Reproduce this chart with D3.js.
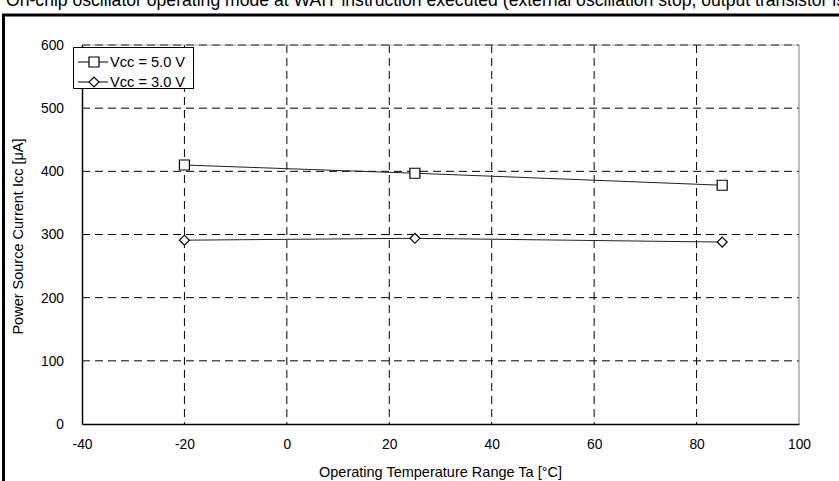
<!DOCTYPE html>
<html><head><meta charset="utf-8">
<script src="https://cdn.jsdelivr.net/npm/d3@7"></script>
<style>body{margin:0;background:#fff;} svg{display:block;font-family:"Liberation Sans",Arial,sans-serif;}</style>
</head><body>
<svg id="c" width="839" height="481"></svg>
<script>
const temps = [-20, 25, 85];
const vcc5 = [410, 397, 378];
const vcc3 = [291, 294, 288];
const seriesNames = ["Vcc = 5.0 V", "Vcc = 3.0 V"];
const xTicks = [-40, -20, 0, 20, 40, 60, 80, 100];
const yTicks = [0, 100, 200, 300, 400, 500, 600];
const titleText = "On-chip oscillator operating mode at WAIT instruction executed (external oscillation stop, output transistor is off)";

const FONT = "'Liberation Sans', Arial, sans-serif";
const svg = d3.select("#c");
const x = d3.scaleLinear().domain([-40, 100]).range([82, 799]);
const y = d3.scaleLinear().domain([0, 600]).range([424, 45]);

// title (clipped at top)
svg.append("text").attr("x", 6).attr("y", 6).attr("font-size", 17.6).attr("font-family", FONT).attr("fill", "#000").text(titleText);
// outer frame
svg.append("line").attr("x1", 2).attr("x2", 839).attr("y1", 15).attr("y2", 15).attr("stroke", "#000").attr("stroke-width", 3);
svg.append("line").attr("x1", 3.5).attr("x2", 3.5).attr("y1", 14).attr("y2", 481).attr("stroke", "#000").attr("stroke-width", 3);

// grid
const g = svg.append("g");
g.selectAll(".vg").data(xTicks.filter(d => d > -40 && d < 100)).enter().append("line")
  .attr("x1", d => x(d)).attr("x2", d => x(d)).attr("y1", y(600)).attr("y2", y(0))
  .attr("stroke", "#000").attr("stroke-width", 1).attr("stroke-dasharray", "8,5");
g.selectAll(".hg").data(yTicks.filter(d => d > 0)).enter().append("line")
  .attr("x1", x(-40)).attr("x2", x(100)).attr("y1", d => y(d)).attr("y2", d => y(d))
  .attr("stroke", "#000").attr("stroke-width", 1).attr("stroke-dasharray", "8,5");

// plot frame
svg.append("line").attr("x1", x(100)).attr("x2", x(100)).attr("y1", y(600)).attr("y2", y(0)).attr("stroke", "#808080").attr("stroke-width", 1);
svg.append("line").attr("x1", x(-40)).attr("x2", x(100)).attr("y1", y(600)).attr("y2", y(600)).attr("stroke", "#808080").attr("stroke-width", 1).attr("opacity", 0.6);

// axes
const fmt = d => String(d);
const xa = svg.append("g").attr("transform", `translate(0,${y(0)})`)
  .call(d3.axisBottom(x).tickValues(xTicks).tickSize(0).tickPadding(15).tickFormat(fmt));
const ya = svg.append("g").attr("transform", `translate(${x(-40)},0)`)
  .call(d3.axisLeft(y).tickValues(yTicks).tickSize(0).tickPadding(18).tickFormat(fmt));
[xa, ya].forEach(a => {
  a.attr("font-size", 13.8).attr("font-family", FONT);
  a.select(".domain").attr("stroke", "#000").attr("stroke-width", 1.5);
  a.selectAll("text").attr("font-size", 13.8).attr("fill", "#000").attr("font-family", FONT);
});

// lines & markers
const line = d3.line().x(d => x(d[0])).y(d => y(d[1]));
const s5 = temps.map((t, i) => [t, vcc5[i]]);
const s3 = temps.map((t, i) => [t, vcc3[i]]);
[s5, s3].forEach(s => svg.append("path").attr("d", line(s)).attr("fill", "none").attr("stroke", "#222").attr("stroke-width", 1));

const sq = d3.symbol().type(d3.symbolSquare).size(100);
svg.selectAll(".m5").data(s5).enter().append("path").attr("d", sq)
  .attr("transform", d => `translate(${x(d[0])},${y(d[1])})`).attr("fill", "#fff").attr("stroke", "#000").attr("stroke-width", 1.2);
svg.selectAll(".m3").data(s3).enter().append("rect")
  .attr("width", 7).attr("height", 7).attr("x", -3.5).attr("y", -3.5)
  .attr("transform", d => `translate(${x(d[0])},${y(d[1])}) rotate(45)`).attr("fill", "#fff").attr("stroke", "#000").attr("stroke-width", 1.2);

// legend
const lg = svg.append("g");
lg.append("rect").attr("x", 73.5).attr("y", 47.5).attr("width", 120).attr("height", 41).attr("fill", "#fff").attr("stroke", "#000").attr("stroke-width", 1);
seriesNames.forEach((name, i) => {
  const yy = 62 + i * 20;
  lg.append("line").attr("x1", 78).attr("x2", 108).attr("y1", yy).attr("y2", yy).attr("stroke", "#000");
  if (i === 0) {
    lg.append("path").attr("d", sq).attr("transform", `translate(94,${yy})`).attr("fill", "#fff").attr("stroke", "#000").attr("stroke-width", 1.2);
  } else {
    lg.append("rect").attr("width", 7).attr("height", 7).attr("x", -3.5).attr("y", -3.5)
      .attr("transform", `translate(94,${yy}) rotate(45)`).attr("fill", "#fff").attr("stroke", "#000").attr("stroke-width", 1.2);
  }
  lg.append("text").attr("x", 110).attr("y", yy + 5).attr("font-size", 14.6).attr("font-family", FONT).attr("fill", "#000").text(name);
});

// axis titles
svg.append("text").attr("x", x(30)).attr("y", 477).attr("text-anchor", "middle").attr("font-size", 14.5).attr("font-family", FONT).attr("fill", "#000")
  .text("Operating Temperature Range Ta [°C]");
svg.append("text").attr("transform", `translate(23,${(y(0)+y(600))/2 + 2}) rotate(-90)`).attr("text-anchor", "middle").attr("font-size", 14.5).attr("font-family", FONT).attr("fill", "#000")
  .text("Power Source Current Icc [μA]");
</script>
</body></html>
